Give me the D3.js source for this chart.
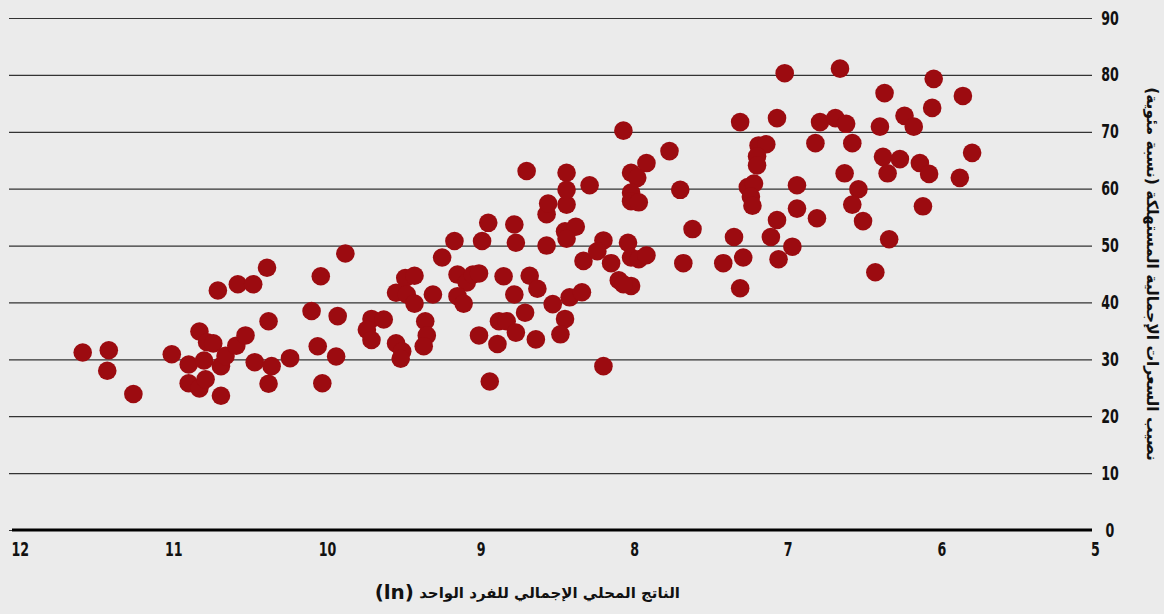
<!DOCTYPE html>
<html>
<head>
<meta charset="utf-8">
<script src="https://cdn.jsdelivr.net/npm/d3@7"></script>
<style>
  body { margin: 0; background: #ebebeb; }
  svg { display: block; }
</style>
</head>
<body>
<script>
// ln GDP per capita (x) and share of total calories (y, %)
var gdpLn = [
  11.59, 11.42, 11.43, 11.26, 11.01, 10.83, 10.78, 10.74, 10.90, 10.80,
  10.90, 10.83, 10.79, 10.69, 10.69, 10.66, 10.59, 10.53, 10.71, 10.58,
  10.48, 10.39, 10.38, 10.47, 10.36, 10.38, 10.24, 10.10, 10.04, 9.88,
  9.93, 10.06, 9.94, 10.03, 9.71, 9.63, 9.74, 9.71, 9.55, 9.51,
  9.52, 9.36, 9.35, 9.37, 9.55, 9.49, 9.43, 9.48, 9.43, 9.31,
  9.25, 9.17, 9.15, 9.09, 9.05, 9.01, 9.15, 9.11, 8.99, 8.95,
  9.01, 8.89, 8.94, 8.85, 8.78, 8.78, 8.77, 8.88, 8.83, 8.77,
  8.71, 8.64, 8.68, 8.63, 8.57, 8.57, 8.56, 8.44, 8.45, 8.38,
  8.44, 8.33, 8.53, 8.42, 8.34, 8.45, 8.48, 8.07, 7.31, 7.07,
  7.77, 7.92, 8.02, 7.98, 8.02, 8.02, 7.97, 8.70, 8.44, 8.44,
  8.29, 7.70, 7.62, 8.20, 8.24, 8.15, 8.04, 8.02, 7.97, 7.92,
  8.10, 8.02, 8.07, 7.68, 7.42, 7.35, 7.29, 7.31, 8.20, 7.19,
  7.14, 7.20, 7.20, 7.26, 7.22, 7.24, 7.23, 7.07, 7.11, 7.06,
  6.97, 6.94, 6.94, 7.02, 6.66, 6.05, 6.37, 5.86, 6.79, 6.69,
  6.62, 6.40, 6.24, 6.18, 6.06, 6.82, 6.58, 6.38, 6.27, 6.14,
  6.08, 6.35, 5.80, 5.88, 6.63, 6.81, 6.54, 6.58, 6.51, 6.12,
  6.34, 6.43
];
var calShare = [
  31.2, 31.6, 28.0, 23.9, 30.9, 34.9, 33.0, 32.8, 29.1, 29.8,
  25.8, 24.9, 26.5, 23.6, 28.8, 30.6, 32.4, 34.2, 42.1, 43.2,
  43.2, 46.1, 36.7, 29.5, 28.8, 25.7, 30.2, 38.5, 44.6, 48.6,
  37.6, 32.3, 30.5, 25.8, 37.1, 37.0, 35.2, 33.4, 32.8, 31.4,
  30.1, 36.7, 34.2, 32.3, 41.7, 44.3, 44.7, 41.4, 39.8, 41.4,
  47.9, 50.8, 44.9, 43.5, 44.9, 45.1, 41.1, 39.8, 50.8, 54.0,
  34.2, 32.7, 26.1, 44.6, 41.4, 53.7, 50.5, 36.7, 36.7, 34.7,
  38.2, 33.5, 44.7, 42.4, 50.0, 55.5, 57.4, 57.2, 52.5, 53.3,
  51.2, 47.3, 39.7, 40.9, 41.8, 37.1, 34.4, 70.2, 71.7, 72.4,
  66.6, 64.5, 62.8, 61.9, 59.3, 57.8, 57.6, 63.1, 62.8, 59.8,
  60.6, 59.8, 52.9, 50.9, 49.0, 46.9, 50.5, 47.9, 47.6, 48.3,
  43.9, 42.9, 43.2, 46.9, 46.9, 51.5, 47.9, 42.5, 28.8, 67.6,
  67.8, 65.7, 64.1, 60.3, 60.9, 58.6, 57.0, 54.5, 51.5, 47.6,
  49.8, 60.6, 56.5, 80.3, 81.1, 79.3, 76.8, 76.3, 71.7, 72.4,
  71.4, 70.9, 72.8, 70.9, 74.2, 68.0, 68.0, 65.6, 65.2, 64.5,
  62.6, 62.7, 66.3, 61.9, 62.7, 54.8, 59.9, 57.2, 54.3, 56.9,
  51.1, 45.3
];
var xTicks = [12, 11, 10, 9, 8, 7, 6, 5];
var yTicks = [0, 10, 20, 30, 40, 50, 60, 70, 80, 90];

var xTitle = "الناتج المحلي الإجمالي للفرد الواحد";
var xTitleLn = "(ln)";
var yTitle = "نصيب السعرات الإجمالية المستهلكة (نسبة مئوية)";

var width = 1164,
    height = 614,
    gridLeft = 9,
    gridRight = 1092,
    dotColor = "#9c0b10",
    squeeze = 0.74,   // no condensed font installed, so narrow the digits by hand
    numFont = "'Liberation Sans Narrow', 'DejaVu Sans Condensed', 'DejaVu Sans', sans-serif",
    arFont = "'DejaVu Sans', sans-serif";

var svg = d3.select("body").append("svg")
    .attr("width", width)
    .attr("height", height);

svg.append("rect")
    .attr("width", width)
    .attr("height", height)
    .attr("fill", "#ebebeb");

// x runs backwards, 12 on the left
var x = d3.scaleLinear().domain([12, 5]).range([19.7, 1095]);
var y = d3.scaleLinear().domain([0, 90]).range([530, 18]);

// gridlines + right side labels
var yAxis = d3.axisRight(y)
    .tickValues(yTicks)
    .tickSize(-(gridRight - gridLeft))
    .tickPadding(10)
    .tickFormat(d3.format("d"));

var gy = svg.append("g")
    .attr("transform", "translate(" + gridRight + ",0)")
    .call(yAxis);
gy.select(".domain").remove();
gy.selectAll(".tick line")
    .attr("stroke", "#333")
    .attr("stroke-width", 1.2);
gy.selectAll(".tick text")
    .attr("x", 18 / squeeze)
    .attr("transform", "scale(" + squeeze + ",1)")
    .attr("text-anchor", "middle")
    .attr("font-family", numFont)
    .attr("font-weight", "bold")
    .attr("font-size", 19)
    .attr("fill", "#111");

// zero line is heavier
svg.append("line")
    .attr("x1", 12)
    .attr("x2", gridRight)
    .attr("y1", y(0))
    .attr("y2", y(0))
    .attr("stroke", "#000")
    .attr("stroke-width", 3);

// bottom labels, no tick marks
var xAxis = d3.axisBottom(x)
    .tickValues(xTicks)
    .tickSize(0)
    .tickPadding(13)
    .tickFormat(d3.format("d"));

var gx = svg.append("g")
    .attr("transform", "translate(0," + y(0) + ")")
    .call(xAxis);
gx.select(".domain").remove();
gx.selectAll(".tick text")
    .attr("transform", "scale(" + squeeze + ",1)")
    .attr("font-family", numFont)
    .attr("font-weight", "bold")
    .attr("font-size", 19)
    .attr("fill", "#111");

// dots
svg.append("g")
    .selectAll("circle")
    .data(gdpLn)
    .join("circle")
    .attr("cx", function(d) { return x(d); })
    .attr("cy", function(d, i) { return y(calShare[i]); })
    .attr("r", 9.3)
    .attr("fill", dotColor);

// axis titles
svg.append("text")
    .text(xTitle)
    .attr("x", 680)
    .attr("y", 598)
    .attr("text-anchor", "end")
    .attr("font-family", arFont)
    .attr("font-weight", "bold")
    .attr("font-size", 15)
    .attr("fill", "#111");

svg.append("text")
    .text(xTitleLn)
    .attr("x", 414)
    .attr("y", 599)
    .attr("text-anchor", "end")
    .attr("font-family", "'DejaVu Sans', sans-serif")
    .attr("font-weight", "bold")
    .attr("font-size", 20)
    .attr("fill", "#111");

svg.append("text")
    .text(yTitle)
    .attr("direction", "rtl")
    .attr("text-anchor", "middle")
    .attr("transform", "translate(1147,274) rotate(90)")
    .attr("font-family", arFont)
    .attr("font-weight", "bold")
    .attr("font-size", 15.5)
    .attr("fill", "#111");
</script>
</body>
</html>
